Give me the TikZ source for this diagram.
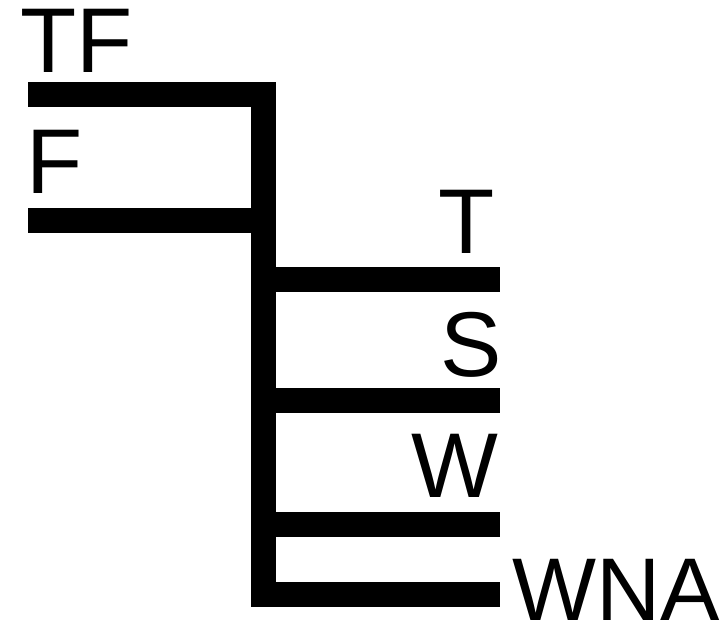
\documentclass[tikz,border=0pt]{standalone}
\usepackage{fontspec}
\setmainfont{Liberation Sans}
\begin{document}
\begin{tikzpicture}[x=1pt,y=-1pt,
  bar/.style={line width=25pt,line cap=butt,line join=miter},
  lbl/.style={inner sep=0pt,font=\fontsize{92}{92}\selectfont}]
\useasboundingbox (0,0) rectangle (728,626);
% coordinates
\coordinate (tfL) at (28,94.5);
\coordinate (top) at (263,94.5);
\coordinate (bot) at (263,594);
\coordinate (wnaR) at (500,594);
\coordinate (fL) at (28,220);
\coordinate (fR) at (263,220);
\coordinate (tJ) at (263,279);
\coordinate (tR) at (500,279);
\coordinate (sJ) at (263,400);
\coordinate (sR) at (500,400);
\coordinate (wJ) at (263,524);
\coordinate (wR) at (500,524);
% bars
\draw[bar] (tfL) -- (top) -- (bot) -- (wnaR);
\draw[bar] (fL) -- (fR);
\draw[bar] (tJ) -- (tR);
\draw[bar] (sJ) -- (sR);
\draw[bar] (wJ) -- (wR);
% labels
\node[lbl,anchor=base west] (tf) at (20,73) {TF};
\node[lbl,anchor=base west] (f) at (26,193) {F};
\node[lbl,anchor=base east] (t) at (495,253) {T};
\node[lbl,anchor=base east] (s) at (502,376) {S};
\node[lbl,anchor=base east] (w) at (499,497) {W};
\node[lbl,anchor=base west,font=\fontsize{89}{89}\selectfont] (wna) at (512,620) {WNA};
\end{tikzpicture}
\end{document}
